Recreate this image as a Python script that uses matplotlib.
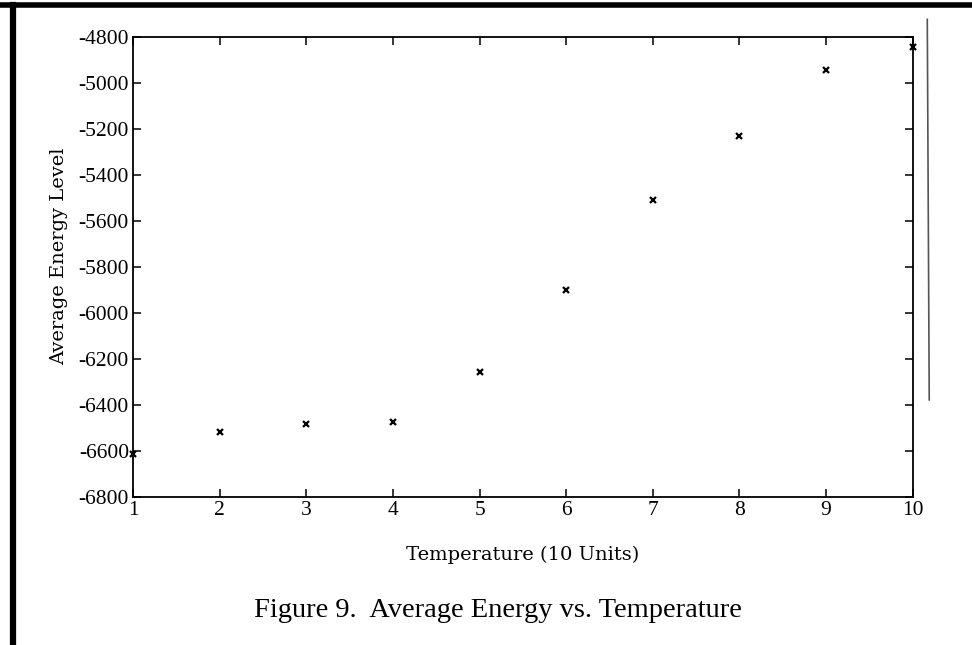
import numpy as np
import matplotlib
matplotlib.use("Agg")
import matplotlib.pyplot as plt
from matplotlib.lines import Line2D

plt.rcParams['font.family'] = ['Liberation Serif', 'DejaVu Serif']
plt.rcParams['axes.unicode_minus'] = False

# data
temperature = [1, 2, 3, 4, 5, 6, 7, 8, 9, 10]
energy = [-6612, -6517, -6480, -6474, -6258, -5900, -5510, -5230, -4943, -4845]

xticks = [1, 2, 3, 4, 5, 6, 7, 8, 9, 10]
yticks = [-6800, -6600, -6400, -6200, -6000, -5800, -5600, -5400, -5200, -5000, -4800]

fig = plt.figure(figsize=(9.72, 6.45), dpi=100)
ax = fig.add_axes([0.137, 0.229, 0.802, 0.714])

ax.plot(temperature, energy, 'x', color='black', markersize=5,
        markeredgewidth=1.6, clip_on=False)

ax.set_xlim(1, 10)
ax.set_ylim(-6800, -4800)
ax.set_xticks(xticks)
ax.set_yticks(yticks)
ax.tick_params(direction='in', length=6, width=1.1, labelsize=15.5,
               top=True, right=True, pad=3)
for s in ax.spines.values():
    s.set_linewidth(1.3)

ax.set_xlabel('Temperature (10 Units)', fontsize=14, labelpad=18,
              family='DejaVu Serif')
ax.set_ylabel('Average Energy Level', fontsize=14,
              family='DejaVu Serif')
ax.yaxis.set_label_coords(-0.083, 0.523)

fig.text(0.512, 0.054, 'Figure 9.  Average Energy vs. Temperature',
         ha='center', va='center', fontsize=20.5)

# scan border lines
fig.add_artist(Line2D([0.0, 1.0], [0.993, 0.993], color='black', lw=4,
                      transform=fig.transFigure))
fig.add_artist(Line2D([0.013, 0.013], [0.0, 0.993], color='black', lw=4.5,
                      transform=fig.transFigure))
fig.add_artist(Line2D([0.954, 0.956], [0.97, 0.38], color='#555555', lw=1.2,
                      transform=fig.transFigure))

fig.savefig('out.png', dpi=100)
